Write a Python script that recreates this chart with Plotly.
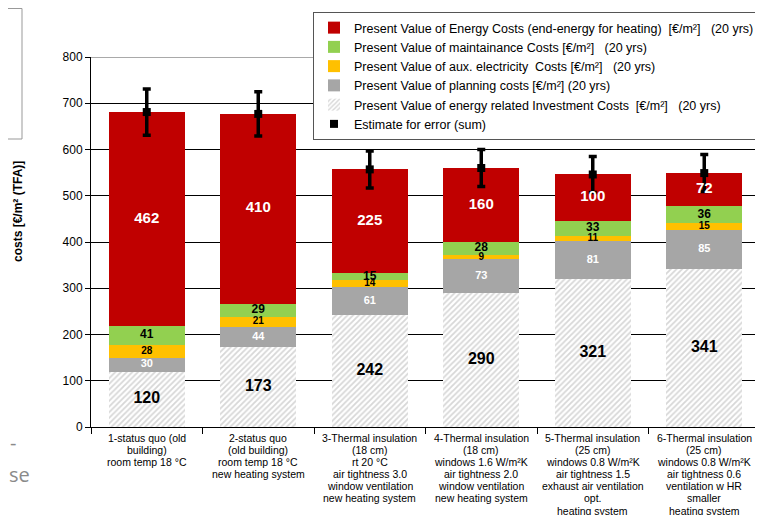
import numpy as np
import plotly.graph_objects as go

categories = [
    "1-status quo (old<br>building)<br>room temp 18 °C",
    "2-status quo<br>(old building)<br>room temp 18 °C<br>new heating system",
    "3-Thermal insulation<br>(18 cm)<br>rt 20 °C<br>air tightness 3.0<br>window ventilation<br>new heating system",
    "4-Thermal insulation<br>(18 cm)<br>windows 1.6 W/m²K<br>air tightness 2.0<br>window ventilation<br>new heating system",
    "5-Thermal insulation<br>(25 cm)<br>windows 0.8 W/m²K<br>air tightness 1.5<br>exhaust air ventilation<br>opt.<br>heating system",
    "6-Thermal insulation<br>(25 cm)<br>windows 0.8 W/m²K<br>air tightness 0.6<br>ventilation w HR<br>smaller<br>heating system",
]

investment = [120, 173, 242, 290, 321, 341]
planning = [30, 44, 61, 73, 81, 85]
aux_electricity = [28, 21, 14, 9, 11, 15]
maintenance = [41, 29, 15, 28, 33, 36]
energy = [462, 410, 225, 160, 100, 72]
error_estimate = [50, 48, 40, 40, 39, 40]

y_ticks = [0, 100, 200, 300, 400, 500, 600, 700, 800]

NB = "\u00a0"
names = {
    "energy": f"Present Value of Energy Costs (end-energy for heating){NB}{NB}[€/m²]{NB}{NB}{NB}(20 yrs)",
    "maint": f"Present Value of maintainance Costs [€/m²]{NB}{NB}{NB}(20 yrs)",
    "aux": f"Present Value of aux. electricity{NB}{NB}Costs [€/m²]{NB}{NB}{NB}(20 yrs)",
    "plan": "Present Value of planning costs [€/m²] (20 yrs)",
    "inv": f"Present Value of energy related Investment Costs{NB}{NB}[€/m²]{NB}{NB}{NB}(20 yrs)",
    "err": "Estimate for error (sum)",
}

FONT = "Arial, 'Liberation Sans', sans-serif"
OFF = 8  # page body margin
W, H = 763 - OFF, 515 - OFF
# plot area in page pixels: x 91..760, y 57..427
L = 91 - OFF
R = W - (760 - OFF)
T = 57 - OFF
B = H - (427 - OFF)
PW, PH = W - L - R, H - T - B


def px(xp):
    return (xp - OFF - L) / PW


def py(yp):
    return (H - B - (yp - OFF)) / PH


series = [
    ("inv", investment, dict(color="white", pattern=dict(shape="/", fgcolor="#AFAFAF", bgcolor="white", size=4, solidity=0.45)), "#000", 16, 5),
    ("plan", planning, dict(color="#A6A6A6"), "#FFFFFF", 11, 4),
    ("aux", aux_electricity, dict(color="#FFC000"), "#000", 10, 3),
    ("maint", maintenance, dict(color="#92D050"), "#000", 12, 2),
    ("energy", energy, dict(color="#C00000"), "#FFFFFF", 15, 1),
]

fig = go.Figure()
base = np.zeros(len(categories))
label_specs = []
for key, vals, marker, tcolor, tsize, rank in series:
    v = np.array(vals, dtype=float)
    fig.add_trace(go.Bar(
        x=categories, y=vals, name=names[key], marker=dict(line=dict(width=0), **marker),
        legendrank=rank,
    ))
    label_specs.append((base + v / 2, vals, tcolor, tsize))
    base = base + v

totals = base
fig.add_trace(go.Scatter(
    x=categories, y=totals, mode="markers", name=names["err"], legendrank=6,
    marker=dict(symbol="square", color="black", size=8),
    error_y=dict(type="data", array=error_estimate, color="black", thickness=3.5, width=4),
))

for ypos, vals, tcolor, tsize in label_specs:
    fig.add_trace(go.Scatter(
        x=categories, y=ypos, mode="text", text=[str(v) for v in vals], showlegend=False,
        textfont=dict(family=FONT, size=tsize, color=tcolor, weight="bold"),
        cliponaxis=False, hoverinfo="skip",
    ))

fig.update_layout(
    width=W, height=H, autosize=False,
    margin=dict(l=L, r=R, t=T, b=B, autoexpand=False),
    barmode="stack", bargap=0.32,
    plot_bgcolor="white", paper_bgcolor="white",
    font=dict(family=FONT, color="#000", size=11),
    legend=dict(
        xref="container", yref="container",
        x=(313 - OFF) / W, y=1 - (12 - OFF) / H, xanchor="left", yanchor="top",
        bgcolor="white", bordercolor="#555", borderwidth=1,
        font=dict(family=FONT, size=12.5, color="#000"),
        traceorder="normal", itemwidth=30,
    ),
    xaxis=dict(
        showline=True, linecolor="black", linewidth=1,
        ticks="outside", tickson="boundaries", ticklen=6, tickcolor="black",
        showticklabels=False, showgrid=False,
    ),
    yaxis=dict(
        range=[0, 800], tickvals=y_ticks, showline=True, linecolor="black", linewidth=1,
        ticks="outside", ticklen=5, tickcolor="black",
        tickfont=dict(family=FONT, size=12, color="#000"),
        showgrid=True, gridcolor="black", gridwidth=1, zeroline=False,
    ),
    showlegend=True,
)

# category labels (one line per annotation to match the tighter line spacing)
for cat in categories:
    for i, line in enumerate(cat.split("<br>")):
        fig.add_annotation(
            text=line, xref="x", yref="paper", x=cat, y=py(437.5 + i * 12.2),
            xanchor="center", yanchor="middle", showarrow=False,
            font=dict(family=FONT, size=10.5, color="#000"),
        )

# y-axis title
fig.add_annotation(
    text="<b>costs [€/m² (TFA)]</b>", textangle=-90, xref="paper", yref="paper",
    x=px(18), y=py(212), xanchor="center", yanchor="middle",
    showarrow=False, font=dict(family=FONT, size=12, color="#000"),
)

# top border and right frame line
fig.add_shape(type="line", xref="paper", yref="y", x0=0, x1=1, y0=800, y1=800,
              line=dict(color="#8C8C8C", width=1.5), layer="above")
fig.add_shape(type="line", xref="paper", yref="paper", x0=px(759), x1=px(759),
              y0=py(515), y1=py(122), line=dict(color="#A0A0A0", width=1), layer="above")

# cropped slide remnants on the left
fig.add_shape(type="rect", xref="paper", yref="paper",
              x0=px(-10), x1=px(22), y0=py(139), y1=py(8.5),
              line=dict(color="#999", width=1), fillcolor="rgba(0,0,0,0)")
fig.add_annotation(text="-", xref="paper", yref="paper", x=px(8), y=py(442),
                   xanchor="left", yanchor="middle", showarrow=False,
                   font=dict(family="'Open Sans', sans-serif", size=20, color="#8A8A8A"))
fig.add_annotation(text="se", xref="paper", yref="paper", x=px(7), y=py(474),
                   xanchor="left", yanchor="middle", showarrow=False,
                   font=dict(family="'Open Sans', sans-serif", size=20, color="#8A8A8A"))

fig.write_html("out.html")
